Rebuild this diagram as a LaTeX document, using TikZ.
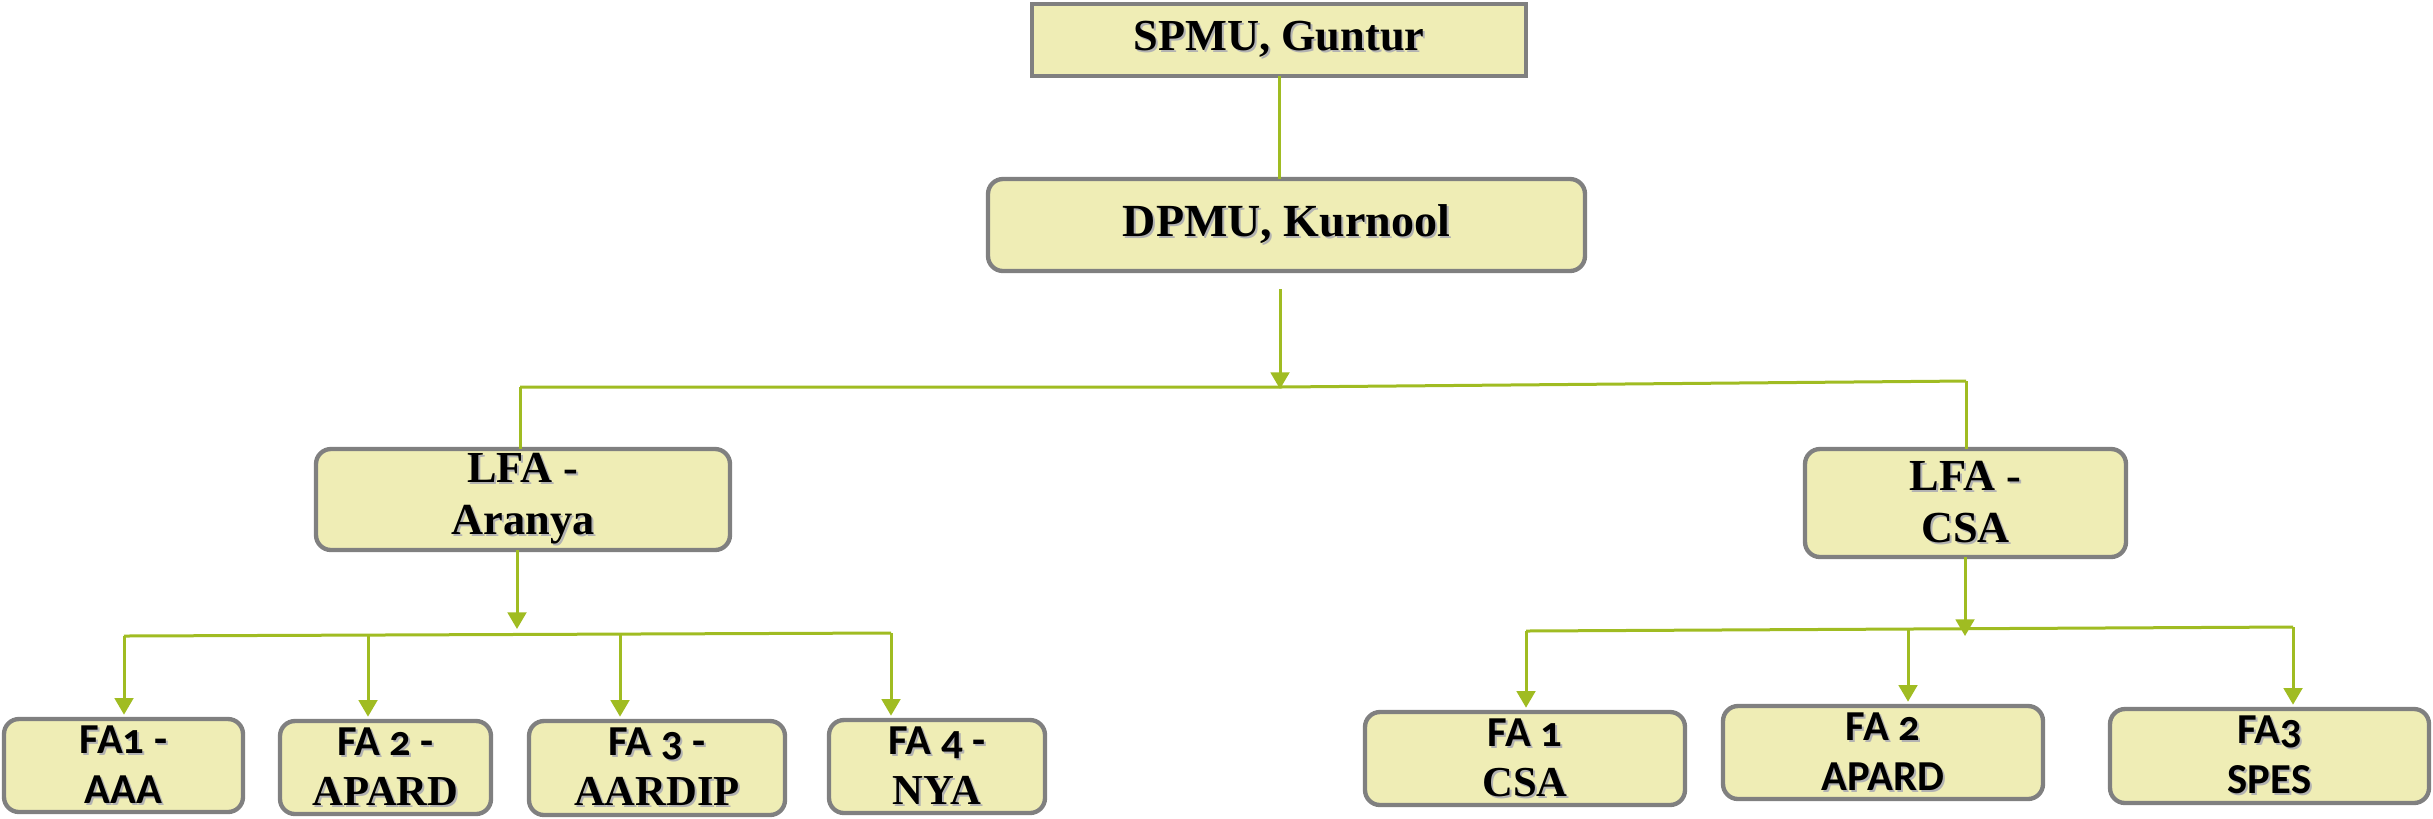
\documentclass[tikz,border=0pt]{standalone}
\usepackage{fontspec}
\setmainfont{Liberation Serif}
\newfontfamily\carl[Numbers=OldStyle]{Carlito}
\usetikzlibrary{arrows.meta}
\definecolor{boxfill}{RGB}{239,237,181}
\definecolor{boxline}{RGB}{128,128,128}
\definecolor{linkcol}{RGB}{160,188,34}
\newcommand\shd[1]{\rlap{\kern0.6pt\raisebox{-0.6pt}{\textcolor{black!30}{#1}}}#1}
\tikzset{
  box/.style={draw=boxline, fill=boxfill, line width=1.3pt, inner sep=0pt, outer sep=0pt,
    rounded corners=4.5pt, align=center, font=\fontsize{13.3}{15.5}\selectfont\bfseries},
  sqbox/.style={box, rounded corners=0pt},
  fabox/.style={box, font=\fontsize{12.8}{15}\selectfont\bfseries},
  link/.style={draw=linkcol, line width=0.9pt},
  arr/.style={link, -{Triangle[length=5pt,width=5.6pt]}, shorten >=1.3pt}
}
\begin{document}
\begin{tikzpicture}[x=0.3pt,y=-0.3pt]
\useasboundingbox (0,0) rectangle (2433,818);

% nodes
\node[sqbox, minimum width=148.2pt, minimum height=21.6pt] (spmu) at (1279,40) {\shd{SPMU, Guntur}};
\node[box, minimum width=179.1pt, minimum height=27.6pt, font=\fontsize{13.8}{15.5}\selectfont\bfseries] (dpmu) at (1286.5,225) {\shd{DPMU, Kurnool}};
\node[box, minimum width=124.2pt, minimum height=30.3pt] (lfa1) at (523,499.5) {\shd{LFA -}\\\shd{Aranya}};
\node[box, minimum width=96.3pt, minimum height=32.4pt] (lfa2) at (1965.5,503) {\shd{LFA -}\\\shd{CSA}};

\node[fabox, minimum width=71.7pt, minimum height=27.9pt] (fa1) at (123.5,765.5) {\shd{\carl FA1 -}\\\shd{\carl AAA}};
\node[fabox, minimum width=63.3pt, minimum height=27.9pt] (fa2) at (385.5,767.5) {\shd{\carl FA 2 -}\\\shd{APARD}};
\node[fabox, minimum width=76.8pt, minimum height=28.2pt] (fa3) at (657,768) {\shd{\carl FA 3 -}\\\shd{AARDIP}};
\node[fabox, minimum width=64.8pt, minimum height=27.9pt] (fa4) at (937,766.5) {\shd{\carl FA 4 -}\\\shd{NYA}};

\node[fabox, minimum width=96pt, minimum height=27.9pt] (fb1) at (1525,758.5) {\shd{\carl FA 1}\\\shd{CSA}};
\node[fabox, minimum width=96pt, minimum height=27.9pt] (fb2) at (1883,752.5) {\shd{\carl FA 2}\\\shd{\carl APARD}};
\node[fabox, minimum width=95.7pt, minimum height=28.2pt] (fb3) at (2269.5,756) {\shd{\carl FA3}\\\shd{\carl SPES}};

% connector coordinates
\coordinate (h1) at (1280,389);
\coordinate (bl) at (520,387);
\coordinate (br) at (1966,381);
\coordinate (h2) at (517,629);
\coordinate (a1) at (124,636);
\coordinate (a2) at (368,635);
\coordinate (a3) at (620,634);
\coordinate (a4) at (891,633);
\coordinate (h3) at (1965,636);
\coordinate (c1) at (1526,631);
\coordinate (c2) at (1908,629);
\coordinate (c3) at (2293,627);

% level 1
\draw[link] (spmu.south) -- (spmu.south |- dpmu.north);
% level 2
\draw[arr, shorten >=0pt] (dpmu.south -| h1) ++(0,18) -- (h1);
\draw[link] (bl) -- (h1 |- bl) -- (br);
\draw[link] (bl) -- (bl |- lfa1.north);
\draw[link] (br) -- (br |- lfa2.north);
% left branch
\draw[arr, shorten >=0pt] (lfa1.south -| h2) -- (h2);
\draw[link] (a1) -- (a4);
\draw[arr] (a1) -- (a1 |- fa1.north);
\draw[arr] (a2) -- (a2 |- fa2.north);
\draw[arr] (a3) -- (a3 |- fa3.north);
\draw[arr] (a4) -- (a4 |- fa4.north);
% right branch
\draw[arr, shorten >=0pt] (lfa2.south -| h3) -- (h3);
\draw[link] (c1) -- (c3);
\draw[arr] (c1) -- (c1 |- fb1.north);
\draw[arr] (c2) -- (c2 |- fb2.north);
\draw[arr] (c3) -- (c3 |- fb3.north);
\end{tikzpicture}
\end{document}
